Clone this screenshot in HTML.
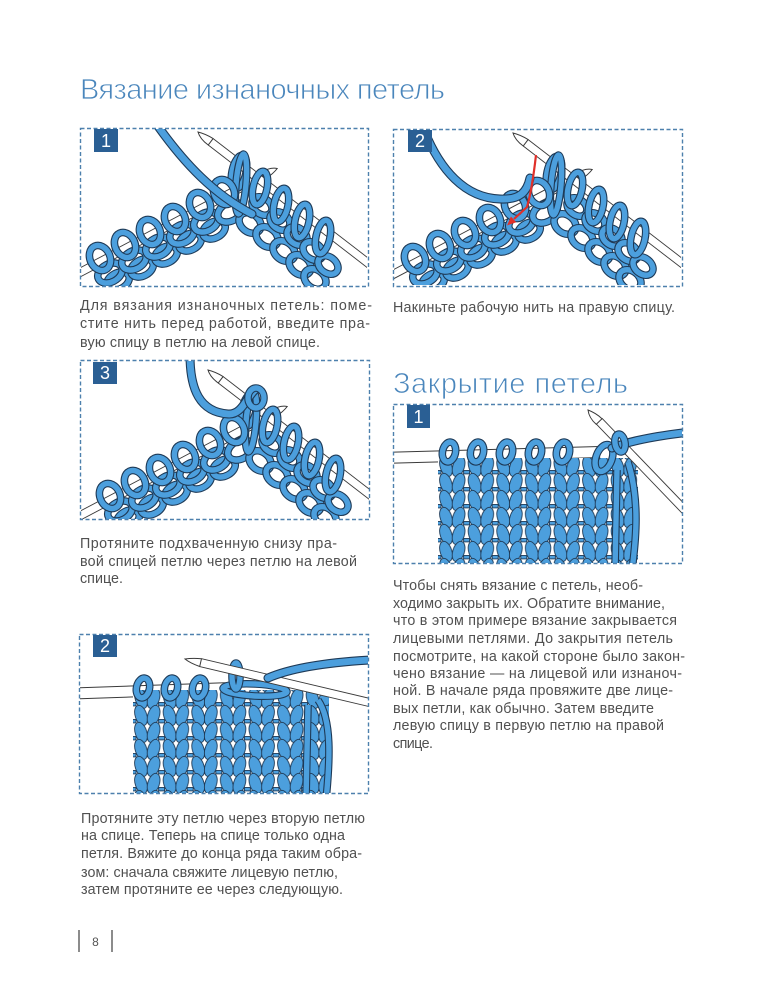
<!DOCTYPE html>
<html><head><meta charset="utf-8"><style>
html,body{margin:0;padding:0;background:#fff}
svg{display:block}
.nd{fill:none;stroke:#3a3a3a;stroke-width:9}
.nw{fill:none;stroke:#fff;stroke-width:7.2}
.nd2{fill:none;stroke:#3a3a3a;stroke-width:12}
.nw2{fill:none;stroke:#fff;stroke-width:10}
.tip{fill:#fff;stroke:#3a3a3a;stroke-width:1}
.o{fill:none;stroke:#1e3a57;stroke-width:7.6}
.b{fill:none;stroke:#4c9fdd;stroke-width:5.4}
.yo{fill:none;stroke:#1e3a57;stroke-width:9;stroke-linecap:round}
.yb{fill:none;stroke:#4c9fdd;stroke-width:6.8;stroke-linecap:round}
.box{fill:none;stroke:#4d80ad;stroke-width:1.4;stroke-dasharray:4 2.5}
.bd{fill:#2a5f94}
.bn{fill:#fff;font-family:"Liberation Sans",sans-serif;font-size:18px;text-anchor:middle}
.t{fill:#505050;font-family:"Liberation Sans","DejaVu Sans",sans-serif;font-size:14.3px}
.h{fill:#4a86bc;font-family:"Liberation Sans","DejaVu Sans",sans-serif;font-size:29px;stroke:#fff;stroke-width:0.8}
.leg{fill:#4c9fdd;stroke:#1e3a57;stroke-width:0.9}
</style></head><body>
<svg width="762" height="1000" viewBox="0 0 762 1000" xmlns="http://www.w3.org/2000/svg">
<defs>
<clipPath id="c1"><rect x="81" y="129" width="286" height="157"/></clipPath>
<clipPath id="c2"><rect x="394" y="130" width="287" height="155"/></clipPath>
<clipPath id="c3"><rect x="81" y="361" width="288" height="158"/></clipPath>
<clipPath id="c4"><rect x="394" y="405" width="288" height="158"/></clipPath>
<clipPath id="c5"><rect x="80" y="635" width="288" height="158"/></clipPath>
<pattern id="fab1" patternUnits="userSpaceOnUse" x="438" y="458" width="28.6" height="17">
<rect width="28.6" height="17" fill="#fff"/>
<rect x="-3" y="12.5" width="6" height="3.4" class="leg"/><rect x="25.6" y="12.5" width="6" height="3.4" class="leg"/>
<ellipse class="leg" cx="8" cy="-8.5" rx="5.8" ry="10.5" transform="rotate(-18 8 -8.5)"/>
<ellipse class="leg" cx="20.6" cy="-8.5" rx="5.8" ry="10.5" transform="rotate(18 20.6 -8.5)"/>
<ellipse class="leg" cx="8" cy="8.5" rx="5.8" ry="10.5" transform="rotate(-18 8 8.5)"/>
<ellipse class="leg" cx="20.6" cy="8.5" rx="5.8" ry="10.5" transform="rotate(18 20.6 8.5)"/>
<ellipse class="leg" cx="8" cy="25.5" rx="5.8" ry="10.5" transform="rotate(-18 8 25.5)"/>
<ellipse class="leg" cx="20.6" cy="25.5" rx="5.8" ry="10.5" transform="rotate(18 20.6 25.5)"/>
</pattern>
<pattern id="fab2" patternUnits="userSpaceOnUse" x="133" y="690" width="28.6" height="17">
<rect width="28.6" height="17" fill="#fff"/>
<rect x="-3" y="12.5" width="6" height="3.4" class="leg"/><rect x="25.6" y="12.5" width="6" height="3.4" class="leg"/>
<ellipse class="leg" cx="8" cy="-8.5" rx="5.8" ry="10.5" transform="rotate(-18 8 -8.5)"/>
<ellipse class="leg" cx="20.6" cy="-8.5" rx="5.8" ry="10.5" transform="rotate(18 20.6 -8.5)"/>
<ellipse class="leg" cx="8" cy="8.5" rx="5.8" ry="10.5" transform="rotate(-18 8 8.5)"/>
<ellipse class="leg" cx="20.6" cy="8.5" rx="5.8" ry="10.5" transform="rotate(18 20.6 8.5)"/>
<ellipse class="leg" cx="8" cy="25.5" rx="5.8" ry="10.5" transform="rotate(-18 8 25.5)"/>
<ellipse class="leg" cx="20.6" cy="25.5" rx="5.8" ry="10.5" transform="rotate(18 20.6 25.5)"/>
</pattern>
<g id="K">
<path class="nd" d="M60,283 L263,176"/><path class="nw" d="M60,283 L263,176"/>
<path class="tip" d="M261.1,172.5 Q270,167 277.2,168.5 Q274,173 264.9,179.5 Z"/>
<path class="nd" d="M210.7,141.8 L390,280"/><path class="nw" d="M210.7,141.8 L390,280"/>
<path class="tip" d="M208.2,145 Q200,139 198,132 Q206,134 213.1,138.6 Z"/>
<ellipse class="o" cx="118" cy="281" rx="12" ry="8" transform="rotate(-28 118 281)"/><ellipse class="b" cx="118" cy="281" rx="12" ry="8" transform="rotate(-28 118 281)"/>
<ellipse class="o" cx="142" cy="268" rx="12" ry="8" transform="rotate(-28 142 268)"/><ellipse class="b" cx="142" cy="268" rx="12" ry="8" transform="rotate(-28 142 268)"/>
<ellipse class="o" cx="166" cy="255" rx="12" ry="8" transform="rotate(-28 166 255)"/><ellipse class="b" cx="166" cy="255" rx="12" ry="8" transform="rotate(-28 166 255)"/>
<ellipse class="o" cx="190" cy="242" rx="12" ry="8" transform="rotate(-28 190 242)"/><ellipse class="b" cx="190" cy="242" rx="12" ry="8" transform="rotate(-28 190 242)"/>
<ellipse class="o" cx="214" cy="230" rx="12" ry="8" transform="rotate(-28 214 230)"/><ellipse class="b" cx="214" cy="230" rx="12" ry="8" transform="rotate(-28 214 230)"/>
<ellipse class="o" cx="110" cy="273" rx="13" ry="9" transform="rotate(-28 110 273)"/><ellipse class="b" cx="110" cy="273" rx="13" ry="9" transform="rotate(-28 110 273)"/>
<ellipse class="o" cx="134" cy="260" rx="13" ry="9" transform="rotate(-28 134 260)"/><ellipse class="b" cx="134" cy="260" rx="13" ry="9" transform="rotate(-28 134 260)"/>
<ellipse class="o" cx="158" cy="247" rx="13" ry="9" transform="rotate(-28 158 247)"/><ellipse class="b" cx="158" cy="247" rx="13" ry="9" transform="rotate(-28 158 247)"/>
<ellipse class="o" cx="182" cy="234" rx="13" ry="9" transform="rotate(-28 182 234)"/><ellipse class="b" cx="182" cy="234" rx="13" ry="9" transform="rotate(-28 182 234)"/>
<ellipse class="o" cx="206" cy="222" rx="13" ry="9" transform="rotate(-28 206 222)"/><ellipse class="b" cx="206" cy="222" rx="13" ry="9" transform="rotate(-28 206 222)"/>
<ellipse class="o" cx="230" cy="212" rx="13" ry="9" transform="rotate(-28 230 212)"/><ellipse class="b" cx="230" cy="212" rx="13" ry="9" transform="rotate(-28 230 212)"/>
<ellipse class="o" cx="250" cy="223" rx="12" ry="9" transform="rotate(38 250 223)"/><ellipse class="b" cx="250" cy="223" rx="12" ry="9" transform="rotate(38 250 223)"/>
<ellipse class="o" cx="267" cy="237" rx="12" ry="9" transform="rotate(38 267 237)"/><ellipse class="b" cx="267" cy="237" rx="12" ry="9" transform="rotate(38 267 237)"/>
<ellipse class="o" cx="284" cy="251" rx="12" ry="9" transform="rotate(38 284 251)"/><ellipse class="b" cx="284" cy="251" rx="12" ry="9" transform="rotate(38 284 251)"/>
<ellipse class="o" cx="300" cy="265" rx="12" ry="9" transform="rotate(38 300 265)"/><ellipse class="b" cx="300" cy="265" rx="12" ry="9" transform="rotate(38 300 265)"/>
<ellipse class="o" cx="315" cy="279" rx="12" ry="9" transform="rotate(38 315 279)"/><ellipse class="b" cx="315" cy="279" rx="12" ry="9" transform="rotate(38 315 279)"/>
<ellipse class="o" cx="262" cy="206" rx="11" ry="8" transform="rotate(38 262 206)"/><ellipse class="b" cx="262" cy="206" rx="11" ry="8" transform="rotate(38 262 206)"/>
<ellipse class="o" cx="280" cy="221" rx="11" ry="8" transform="rotate(38 280 221)"/><ellipse class="b" cx="280" cy="221" rx="11" ry="8" transform="rotate(38 280 221)"/>
<ellipse class="o" cx="297" cy="236" rx="11" ry="8" transform="rotate(38 297 236)"/><ellipse class="b" cx="297" cy="236" rx="11" ry="8" transform="rotate(38 297 236)"/>
<ellipse class="o" cx="313" cy="251" rx="11" ry="8" transform="rotate(38 313 251)"/><ellipse class="b" cx="313" cy="251" rx="11" ry="8" transform="rotate(38 313 251)"/>
<ellipse class="o" cx="328" cy="265" rx="11" ry="8" transform="rotate(38 328 265)"/><ellipse class="b" cx="328" cy="265" rx="11" ry="8" transform="rotate(38 328 265)"/>
<ellipse class="o" cx="239" cy="172" rx="7" ry="17" transform="rotate(12 239 172)"/><ellipse class="b" cx="239" cy="172" rx="7" ry="17" transform="rotate(12 239 172)"/>
<ellipse class="o" cx="260" cy="188" rx="7" ry="17" transform="rotate(12 260 188)"/><ellipse class="b" cx="260" cy="188" rx="7" ry="17" transform="rotate(12 260 188)"/>
<ellipse class="o" cx="281" cy="205" rx="7" ry="17" transform="rotate(12 281 205)"/><ellipse class="b" cx="281" cy="205" rx="7" ry="17" transform="rotate(12 281 205)"/>
<ellipse class="o" cx="302" cy="221" rx="7" ry="17" transform="rotate(12 302 221)"/><ellipse class="b" cx="302" cy="221" rx="7" ry="17" transform="rotate(12 302 221)"/>
<ellipse class="o" cx="323" cy="237" rx="7" ry="17" transform="rotate(12 323 237)"/><ellipse class="b" cx="323" cy="237" rx="7" ry="17" transform="rotate(12 323 237)"/>
<ellipse class="o" cx="241" cy="184" rx="5" ry="30" transform="rotate(5 241 184)"/><ellipse class="b" cx="241" cy="184" rx="5" ry="30" transform="rotate(5 241 184)"/>
<ellipse class="o" cx="100" cy="258" rx="10" ry="13" transform="rotate(-25 100 258)"/><ellipse class="b" cx="100" cy="258" rx="10" ry="13" transform="rotate(-25 100 258)"/>
<ellipse class="o" cx="125" cy="245" rx="10" ry="13" transform="rotate(-25 125 245)"/><ellipse class="b" cx="125" cy="245" rx="10" ry="13" transform="rotate(-25 125 245)"/>
<ellipse class="o" cx="150" cy="232" rx="10" ry="13" transform="rotate(-25 150 232)"/><ellipse class="b" cx="150" cy="232" rx="10" ry="13" transform="rotate(-25 150 232)"/>
<ellipse class="o" cx="175" cy="219" rx="10" ry="13" transform="rotate(-25 175 219)"/><ellipse class="b" cx="175" cy="219" rx="10" ry="13" transform="rotate(-25 175 219)"/>
<ellipse class="o" cx="200" cy="205" rx="10" ry="13" transform="rotate(-25 200 205)"/><ellipse class="b" cx="200" cy="205" rx="10" ry="13" transform="rotate(-25 200 205)"/>
<ellipse class="o" cx="224" cy="192" rx="10" ry="13" transform="rotate(-25 224 192)"/><ellipse class="b" cx="224" cy="192" rx="10" ry="13" transform="rotate(-25 224 192)"/>
</g>
</defs>

<!-- Titles -->
<text class="h" x="80" y="99" textLength="365" lengthAdjust="spacing">Вязание изнаночных петель</text>
<text class="h" x="393" y="393" textLength="235" lengthAdjust="spacing">Закрытие петель</text>

<!-- Illustration 1 -->
<g clip-path="url(#c1)">
<use href="#K"/>
<path class="yo" d="M155,122 C185,165 215,195 252,214"/><path class="yb" d="M155,122 C185,165 215,195 252,214"/>
</g>
<rect class="box" x="80.5" y="128.5" width="288" height="158"/>
<rect class="bd" x="94" y="129" width="24" height="23"/><text class="bn" x="106" y="147">1</text>

<!-- Illustration 2 -->
<g clip-path="url(#c2)">
<use href="#K" transform="translate(315,1)"/>
<path class="yo" d="M424,130 C440,170 465,198 500,199 C520,200 527,192 530,178"/><path class="yb" d="M424,130 C440,170 465,198 500,199 C520,200 527,192 530,178"/>
<path d="M536,155 Q532,190 527,207 L514,219" fill="none" stroke="#e0302a" stroke-width="2.2"/>
<polygon points="507,225.5 516.3,222.3 510.9,216.5" fill="#e0302a"/>
</g>
<rect class="box" x="393.5" y="129.5" width="289" height="157"/>
<rect class="bd" x="408" y="130" width="24" height="22"/><text class="bn" x="420" y="147">2</text>

<!-- Illustration 3 -->
<g clip-path="url(#c3)">
<use href="#K" transform="translate(10,238)"/>
<path class="yo" d="M190,355 C190,390 200,412 228,414 C242,415 246,398 255,390"/><path class="yb" d="M190,355 C190,390 200,412 228,414 C242,415 246,398 255,390"/>
<ellipse class="o" cx="256" cy="398" rx="8" ry="10"/><ellipse class="b" cx="256" cy="398" rx="8" ry="10"/>
</g>
<rect class="box" x="80.5" y="360.5" width="289" height="159"/>
<rect class="bd" x="93" y="362" width="24" height="22"/><text class="bn" x="105" y="379">3</text>

<!-- Illustration 4 -->
<g clip-path="url(#c4)">
<path class="nd2" d="M380,458 L600,452"/><path class="nw2" d="M380,458 L600,452"/>
<rect x="438" y="458" width="200" height="110" fill="url(#fab1)"/>
<path class="o" d="M628,462 C640,500 636,540 632,570"/><path class="b" d="M628,462 C640,500 636,540 632,570"/>
<path class="o" d="M617,470 L615,570"/><path class="b" d="M617,470 L615,570"/>
<ellipse class="o" cx="449" cy="452" rx="6.5" ry="10" transform="rotate(12 449 452)"/><ellipse class="b" cx="449" cy="452" rx="6.5" ry="10" transform="rotate(12 449 452)"/>
<ellipse class="o" cx="477" cy="452" rx="6.5" ry="10" transform="rotate(12 477 452)"/><ellipse class="b" cx="477" cy="452" rx="6.5" ry="10" transform="rotate(12 477 452)"/>
<ellipse class="o" cx="506" cy="452" rx="6.5" ry="10" transform="rotate(12 506 452)"/><ellipse class="b" cx="506" cy="452" rx="6.5" ry="10" transform="rotate(12 506 452)"/>
<ellipse class="o" cx="535" cy="452" rx="6.5" ry="10" transform="rotate(12 535 452)"/><ellipse class="b" cx="535" cy="452" rx="6.5" ry="10" transform="rotate(12 535 452)"/>
<ellipse class="o" cx="563" cy="452" rx="6.5" ry="10" transform="rotate(12 563 452)"/><ellipse class="b" cx="563" cy="452" rx="6.5" ry="10" transform="rotate(12 563 452)"/>
<ellipse class="o" cx="604" cy="458" rx="8" ry="14" transform="rotate(20 604 458)"/><ellipse class="b" cx="604" cy="458" rx="8" ry="14" transform="rotate(20 604 458)"/>
<path class="nd" d="M599,421 L700,526"/><path class="nw" d="M599,421 L700,526"/>
<path class="tip" d="M596.2,424.3 Q589,418 588,410 Q596,413 602,418.7 Z"/>
<path class="yo" d="M612,448 Q640,437 700,431"/><path class="yb" d="M612,448 Q640,437 700,431"/>
<ellipse class="o" cx="620" cy="443" rx="5" ry="9" transform="rotate(-10 620 443)"/><ellipse class="b" cx="620" cy="443" rx="5" ry="9" transform="rotate(-10 620 443)"/>
</g>
<rect class="box" x="393.5" y="404.5" width="289" height="159"/>
<rect class="bd" x="407" y="405" width="23" height="23"/><text class="bn" x="418.5" y="423">1</text>

<!-- Illustration 5 -->
<g clip-path="url(#c5)">
<path class="nd2" d="M60,694 L232,688"/><path class="nw2" d="M60,694 L232,688"/>
<rect x="133" y="690" width="196" height="110" fill="url(#fab2)"/>
<path class="o" d="M318,700 C332,720 330,760 326,800"/><path class="b" d="M318,700 C332,720 330,760 326,800"/>
<path class="o" d="M308,705 L306,800"/><path class="b" d="M308,705 L306,800"/>
<ellipse class="o" cx="143" cy="688" rx="6.5" ry="10" transform="rotate(12 143 688)"/><ellipse class="b" cx="143" cy="688" rx="6.5" ry="10" transform="rotate(12 143 688)"/>
<ellipse class="o" cx="171" cy="688" rx="6.5" ry="10" transform="rotate(12 171 688)"/><ellipse class="b" cx="171" cy="688" rx="6.5" ry="10" transform="rotate(12 171 688)"/>
<ellipse class="o" cx="199" cy="688" rx="6.5" ry="10" transform="rotate(12 199 688)"/><ellipse class="b" cx="199" cy="688" rx="6.5" ry="10" transform="rotate(12 199 688)"/>
<ellipse class="o" cx="255" cy="690" rx="32" ry="6" transform="rotate(3 255 690)"/><ellipse class="b" cx="255" cy="690" rx="32" ry="6" transform="rotate(3 255 690)"/>
<ellipse class="o" cx="236" cy="676" rx="4" ry="13"/><ellipse class="b" cx="236" cy="676" rx="4" ry="13"/>
<path class="nd" d="M200.6,662.6 L380,705"/><path class="nw" d="M200.6,662.6 L380,705"/>
<path class="tip" d="M199.7,666.5 Q190,663 185,659 Q192,658 201.5,658.7 Z"/>
<path class="yo" d="M268,678 Q300,664 370,660"/><path class="yb" d="M268,678 Q300,664 370,660"/>
</g>
<rect class="box" x="79.5" y="634.5" width="289" height="159"/>
<rect class="bd" x="93" y="635" width="24" height="22"/><text class="bn" x="105" y="652">2</text>

<!-- Captions -->
<text class="t" x="80" y="310" textLength="292" lengthAdjust="spacing">Для вязания изнаночных петель: поме-</text>
<text class="t" x="80" y="328" textLength="290" lengthAdjust="spacing">стите нить перед работой, введите пра-</text>
<text class="t" x="80" y="347" textLength="240" lengthAdjust="spacing">вую спицу в петлю на левой спице.</text>

<text class="t" x="393" y="312" textLength="282" lengthAdjust="spacing">Накиньте рабочую нить на правую спицу.</text>

<text class="t" x="80" y="548" textLength="257" lengthAdjust="spacing">Протяните подхваченную снизу пра-</text>
<text class="t" x="80" y="566" textLength="277" lengthAdjust="spacing">вой спицей петлю через петлю на левой</text>
<text class="t" x="80" y="583" textLength="43" lengthAdjust="spacing">спице.</text>

<text class="t" x="393" y="590" textLength="250" lengthAdjust="spacing">Чтобы снять вязание с петель, необ-</text>
<text class="t" x="393" y="608" textLength="272" lengthAdjust="spacing">ходимо закрыть их. Обратите внимание,</text>
<text class="t" x="393" y="625" textLength="284" lengthAdjust="spacing">что в этом примере вязание закрывается</text>
<text class="t" x="393" y="643" textLength="280" lengthAdjust="spacing">лицевыми петлями. До закрытия петель</text>
<text class="t" x="393" y="661" textLength="292" lengthAdjust="spacing">посмотрите, на какой стороне было закон-</text>
<text class="t" x="393" y="678" textLength="289" lengthAdjust="spacing">чено вязание — на лицевой или изнаноч-</text>
<text class="t" x="393" y="695" textLength="280" lengthAdjust="spacing">ной. В начале ряда провяжите две лице-</text>
<text class="t" x="393" y="713" textLength="261" lengthAdjust="spacing">вых петли, как обычно. Затем введите</text>
<text class="t" x="393" y="730" textLength="271" lengthAdjust="spacing">левую спицу в первую петлю на правой</text>
<text class="t" x="393" y="748" textLength="40" lengthAdjust="spacing">спице.</text>

<text class="t" x="81" y="823" textLength="284" lengthAdjust="spacing">Протяните эту петлю через вторую петлю</text>
<text class="t" x="81" y="840" textLength="264" lengthAdjust="spacing">на спице. Теперь на спице только одна</text>
<text class="t" x="81" y="858" textLength="281" lengthAdjust="spacing">петля. Вяжите до конца ряда таким обра-</text>
<text class="t" x="81" y="877" textLength="257" lengthAdjust="spacing">зом: сначала свяжите лицевую петлю,</text>
<text class="t" x="81" y="894" textLength="262" lengthAdjust="spacing">затем протяните ее через следующую.</text>

<!-- Page number -->
<line x1="79" y1="930" x2="79" y2="952" stroke="#666" stroke-width="1.5"/>
<line x1="112" y1="930" x2="112" y2="952" stroke="#666" stroke-width="1.5"/>
<text x="95.5" y="946" font-family="Liberation Sans, sans-serif" font-size="12" fill="#555" text-anchor="middle">8</text>
</svg>
</body></html>
